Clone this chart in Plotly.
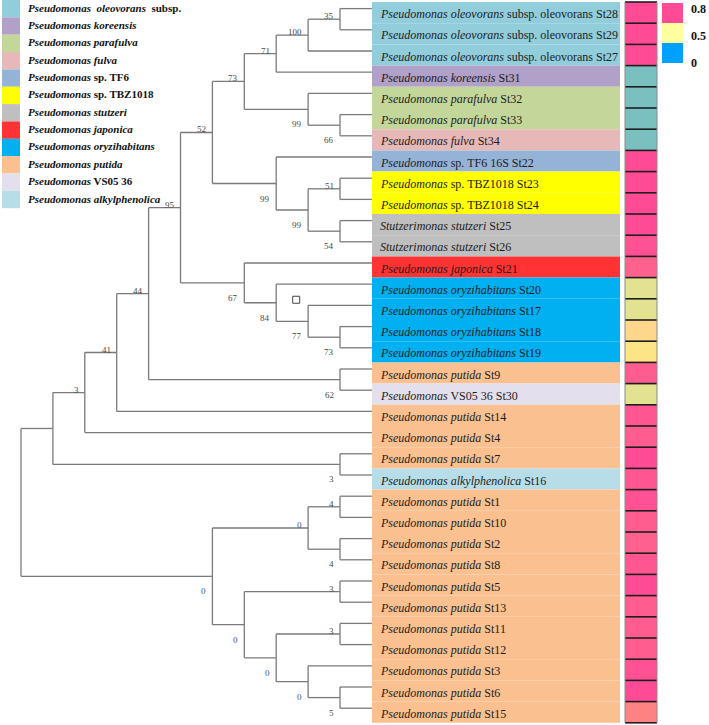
import plotly.graph_objects as go

# ---------------- data ----------------
strains = ["St28", "St29", "St27", "St31", "St32", "St33", "St34", "St22", "St23", "St24",
           "St25", "St26", "St21", "St20", "St17", "St18", "St19", "St9", "St30", "St14",
           "St4", "St7", "St16", "St1", "St10", "St2", "St8", "St5", "St13", "St11",
           "St12", "St3", "St6", "St15"]
groups = (["oleovorans"] * 3 + ["koreensis"] + ["parafulva"] * 2 + ["fulva"] + ["TF6"] +
          ["TBZ1018"] * 2 + ["stutzeri"] * 2 + ["japonica"] + ["oryzihabitans"] * 4 +
          ["putida"] + ["VS05"] + ["putida"] * 3 + ["alkylphenolica"] + ["putida"] * 11)
heat_values = [0.80, 0.80, 0.80, 0.24, 0.24, 0.24, 0.24, 0.80, 0.80, 0.80,
               0.80, 0.79, 0.76, 0.45, 0.45, 0.60, 0.55, 0.77, 0.45, 0.78,
               0.77, 0.80, 0.78, 0.79, 0.77, 0.76, 0.78, 0.80, 0.77, 0.77,
               0.77, 0.79, 0.80, 0.70]
legend_keys = ["oleovorans", "koreensis", "parafulva", "fulva", "TF6", "TBZ1018",
               "stutzeri", "japonica", "oryzihabitans", "putida", "VS05", "alkylphenolica"]
legend_texts = ["<b><i>Pseudomonas  oleovorans</i>  subsp.</b>",
                "<b><i>Pseudomonas koreensis</i></b>",
                "<b><i>Pseudomonas parafulva</i></b>",
                "<b><i>Pseudomonas fulva</i></b>",
                "<b><i>Pseudomonas</i> sp. TF6</b>",
                "<b><i>Pseudomonas</i> sp. TBZ1018</b>",
                "<b><i>Pseudomonas stutzeri</i></b>",
                "<b><i>Pseudomonas japonica</i></b>",
                "<b><i>Pseudomonas oryzihabitans</i></b>",
                "<b><i>Pseudomonas putida</i></b>",
                "<b><i>Pseudomonas</i> VS05 36</b>",
                "<b><i>Pseudomonas alkylphenolica</i></b>"]
leaf_templates = {
    "oleovorans": "<i>Pseudomonas oleovorans</i> subsp. oleovorans {}",
    "koreensis": "<i>Pseudomonas koreensis</i> {}",
    "parafulva": "<i>Pseudomonas parafulva</i> {}",
    "fulva": "<i>Pseudomonas fulva</i> {}",
    "TF6": "<i>Pseudomonas</i> sp. TF6 16S {}",
    "TBZ1018": "<i>Pseudomonas</i> sp. TBZ1018 {}",
    "stutzeri": "<i>Stutzerimonas stutzeri</i> {}",
    "japonica": "<i>Pseudomonas japonica</i> {}",
    "oryzihabitans": "<i>Pseudomonas oryzihabitans</i> {}",
    "putida": "<i>Pseudomonas putida</i> {}",
    "VS05": "<i>Pseudomonas</i> VS05 36 {}",
    "alkylphenolica": "<i>Pseudomonas alkylphenolica</i> {}",
}
scale_values = [0.8, 0.5, 0]
scale_labels = ["0.8", "0.5", "0"]

# tree topology: (bootstrap label, label side a=above/b=below, children); leaves are strain ids
tree = ("", "", [
    ("", "", [
        ("3", "a", [
            ("41", "a", [
                ("44", "a", [
                    ("95", "a", [
                        ("52", "a", [
                            ("73", "a", [
                                ("71", "a", [
                                    ("100", "a", [("35", "a", ["St28", "St29"]), "St27"]),
                                    "St31"]),
                                ("99", "b", ["St32", ("66", "b", ["St33", "St34"])])]),
                            ("99", "b", ["St22",
                                         ("99", "b", [("51", "a", ["St23", "St24"]),
                                                      ("54", "b", ["St25", "St26"])])])]),
                        ("67", "b", ["St21",
                                     ("84", "b", ["St20",
                                                  ("77", "b", ["St17",
                                                               ("73", "b", ["St18", "St19"])])])])]),
                    ("62", "b", ["St9", "St30"])]),
                "St14"]),
            "St4"]),
        ("3", "b", ["St7", "St16"])]),
    ("0", "b", [
        ("0", "a", [("4", "a", ["St1", "St10"]), ("4", "b", ["St2", "St8"])]),
        ("0", "b", [
            ("3", "a", ["St5", "St13"]),
            ("0", "b", [
                ("3", "a", ["St11", "St12"]),
                ("0", "b", ["St3", ("5", "b", ["St6", "St15"])])])])])])

# ---------------- styles / layout constants ----------------
W, H = 709, 725
ROW_TOP, ROW_H = 2.0, 21.2
TREE_X0, LEVEL_W, TREE_DY = 21.0, 31.9, -4.0
BAND_X0, BAND_X1 = 372, 620
HEAT_X0, HEAT_X1 = 625, 657
SCALE_X0, SCALE_X1, SCALE_Y0, SCALE_H = 662, 683, 3, 20
LEG_X0, LEG_X1, LEG_Y0, LEG_H = 2, 20, 0, 17.35
SERIF = "Liberation Serif, Times New Roman, serif"
LINE_COLOR = "#7a7a7a"
colors = {"oleovorans": "#92cddc", "koreensis": "#b1a0c7", "parafulva": "#c4d79b",
          "fulva": "#e6b8b7", "TF6": "#95b3d7", "TBZ1018": "#ffff00", "stutzeri": "#bfbfbf",
          "japonica": "#ff3333", "oryzihabitans": "#00b0f0", "putida": "#fac08f",
          "VS05": "#e4dfec", "alkylphenolica": "#b7dee8"}
ZMAX = 0.8
colorscale = [[0.0, "#00a0ff"], [0.30, "#7ac0c0"], [0.5625, "#e2e291"], [0.625, "#ffffa0"],
              [0.6875, "#ffe487"], [0.75, "#ffd78c"], [0.875, "#ff8282"], [1.0, "#ff4b96"]]

row_center = {s: ROW_TOP + ROW_H * (i + 0.5) for i, s in enumerate(strains)}
row_edges = [ROW_TOP + ROW_H * i for i in range(len(strains) + 1)]


def height(node):
    if isinstance(node, str):
        return 0
    return 1 + max(height(c) for c in node[2])


ROOT_H = height(tree)
xs, ys = [], []
labels = []


def layout_node(node):
    """returns (x, y) of node and records segments"""
    if isinstance(node, str):
        return TREE_X0 + ROOT_H * LEVEL_W, row_center[node] + TREE_DY
    label, side, children = node
    x = TREE_X0 + (ROOT_H - height(node)) * LEVEL_W
    pts = [layout_node(c) for c in children]
    y = (pts[0][1] + pts[-1][1]) / 2
    xs.extend([x, x, None])
    ys.extend([pts[0][1], pts[-1][1], None])
    for cx, cy in pts:
        xs.extend([x, cx, None])
        ys.extend([cy, cy, None])
    if label:
        labels.append((label, side, x, y))
    if label == "84":
        labels.append(("__square__", "", x, y))
    return x, y


layout_node(tree)

fig = go.Figure()

# colored bands behind leaf names
shapes = []
for i, s in enumerate(strains):
    shapes.append(dict(type="rect", layer="below", x0=BAND_X0, x1=BAND_X1,
                       y0=row_edges[i], y1=row_edges[i + 1],
                       fillcolor=colors[groups[i]], line=dict(width=0)))

# tree lines
fig.add_trace(go.Scatter(x=xs, y=ys, mode="lines", line=dict(color=LINE_COLOR, width=1.3),
                         hoverinfo="skip", showlegend=False))

# heat column
fig.add_trace(go.Heatmap(z=[[v] for v in heat_values], x=[HEAT_X0, HEAT_X1], y=row_edges,
                         colorscale=colorscale, zmin=0, zmax=ZMAX, showscale=False,
                         hoverinfo="skip"))
# scale swatches
scale_edges = [SCALE_Y0 + SCALE_H * i for i in range(len(scale_values) + 1)]
fig.add_trace(go.Heatmap(z=[[v] for v in scale_values], x=[SCALE_X0, SCALE_X1], y=scale_edges,
                         colorscale=colorscale, zmin=0, zmax=ZMAX, showscale=False,
                         hoverinfo="skip"))

# heat cell borders
for e in row_edges:
    shapes.append(dict(type="line", x0=HEAT_X0, x1=HEAT_X1, y0=e, y1=e,
                       line=dict(color="#1e1e1e", width=1.6)))
for xe in (HEAT_X0, HEAT_X1):
    shapes.append(dict(type="line", x0=xe, x1=xe, y0=row_edges[0], y1=row_edges[-1],
                       line=dict(color="#8a8a8a", width=1)))

# left legend swatches
for i, k in enumerate(legend_keys):
    shapes.append(dict(type="rect", x0=LEG_X0, x1=LEG_X1, y0=LEG_Y0 + LEG_H * i,
                       y1=LEG_Y0 + LEG_H * (i + 1), fillcolor=colors[k], line=dict(width=0)))

annotations = []
for i, t in enumerate(legend_texts):
    annotations.append(dict(x=26, y=LEG_Y0 + LEG_H * (i + 0.5) - 1, text=t, showarrow=False,
                            xanchor="left", yanchor="middle",
                            font=dict(family=SERIF, size=11, color="#111111")))

for i, s in enumerate(strains):
    annotations.append(dict(x=BAND_X0 + 6, y=row_center[s] + 1.5,
                            text=leaf_templates[groups[i]].format(s), showarrow=False,
                            xanchor="left", yanchor="middle",
                            font=dict(family=SERIF, size=12, color="#1c1c1c")))

for i, t in enumerate(scale_labels):
    annotations.append(dict(x=SCALE_X1 + 6, y=scale_edges[i] + SCALE_H * (0.3 + 0.35 * i),
                            text="<b>" + t + "</b>", showarrow=False,
                            xanchor="left", yanchor="middle",
                            font=dict(family=SERIF, size=12, color="#111111")))

sq_x, sq_y = [], []
for label, side, x, y in labels:
    if label == "__square__":
        sq_x.append(x + 20)
        sq_y.append(y - 3)
        continue
    ty = y - 3 if side == "a" else y + 15
    col = "#3d4f8f" if label == "0" else "#4a4a4a"
    annotations.append(dict(x=x - 4, y=ty, text=label, showarrow=False,
                            xanchor="right", yanchor="middle",
                            font=dict(family=SERIF, size=9, color=col)))

fig.add_trace(go.Scatter(x=sq_x, y=sq_y, mode="markers",
                         marker=dict(symbol="square-open", size=7, color="#444444",
                                     line=dict(width=1)),
                         hoverinfo="skip", showlegend=False))

fig.update_layout(width=W, height=H, autosize=False, margin=dict(l=0, r=0, t=0, b=0),
                  paper_bgcolor="white", plot_bgcolor="white",
                  xaxis=dict(range=[0, W], visible=False, fixedrange=True),
                  yaxis=dict(range=[H, 0], visible=False, fixedrange=True),
                  shapes=shapes, annotations=annotations, showlegend=False)

fig.write_html("out.html", config={"displayModeBar": False},
               post_script="document.body.style.margin='0px';"
                           "document.body.style.overflow='hidden';")
